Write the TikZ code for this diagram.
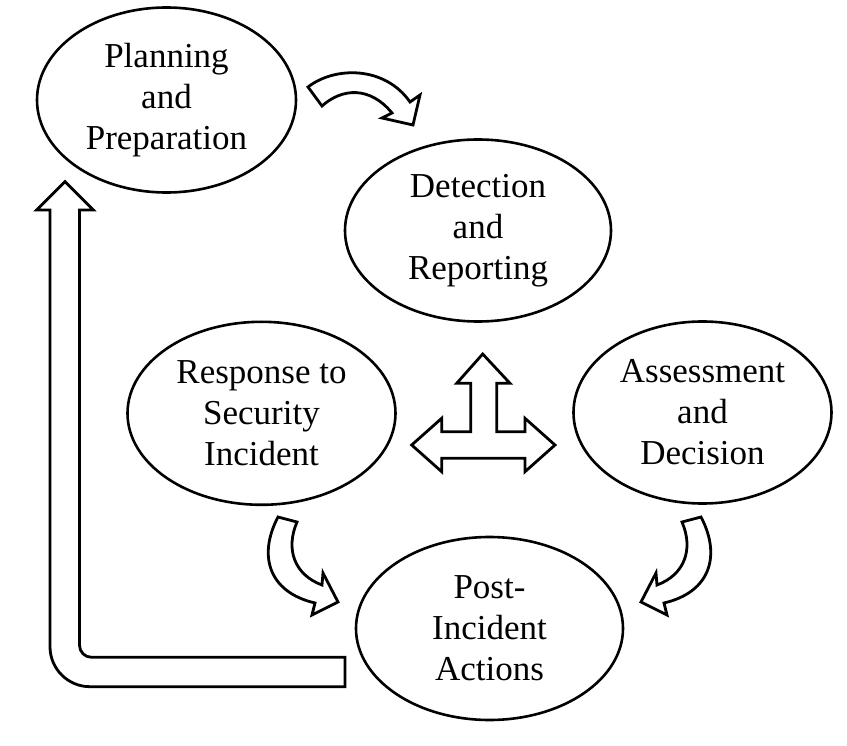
\documentclass[tikz,border=0pt]{standalone}
\usepackage{fontspec}
\setmainfont{Liberation Serif}
\usetikzlibrary{shapes.geometric}
\begin{document}
\begin{tikzpicture}[x=1pt,y=-1pt,
  phase/.style={draw, ellipse, line width=2.6pt, inner sep=0pt, align=center,
    font=\fontsize{35}{41}\selectfont},
  blockarrow/.style={draw, line width=2.8pt, fill=white, line join=miter, miter limit=10}]
\useasboundingbox (0,0) rectangle (847,746);
\node[phase, minimum width=259pt, minimum height=185pt] (plan) at (166.5,100) {Planning\\and\\Preparation};
\node[phase, minimum width=266pt, minimum height=182pt] (detect) at (478,230.5) {Detection\\and\\Reporting};
\node[phase, minimum width=268pt, minimum height=183pt] (resp) at (261.5,413.3) {Response to\\Security\\Incident};
\node[phase, minimum width=258pt, minimum height=182pt] (assess) at (702.5,412.5) {Assessment\\and\\Decision};
\node[phase, minimum width=267pt, minimum height=183pt] (post) at (489.5,628.5) {Post-\\Incident\\Actions};
% Planning -> Detection
\draw[blockarrow] (308,87) .. controls (335,66) and (385,66) .. (410,102) -- (420,95) -- (413,125) -- (382,118) -- (392,113) .. controls (370,86) and (342,88) .. (322,106) -- cycle;
% Response -> Post
\draw[blockarrow] (278,517) .. controls (258,555) and (268,592) .. (315,603) -- (312,615) -- (338,602) -- (323,573) -- (322,585) .. controls (295,575) and (285,550) .. (297,522) -- cycle;
% Assessment -> Post
\draw[blockarrow] (701,517) .. controls (721,555) and (711,592) .. (664,603) -- (667,615) -- (641,602) -- (656,573) -- (657,585) .. controls (684,575) and (694,550) .. (682,522) -- cycle;
% three-way arrow
\draw[blockarrow] (482.7,354) -- (510,383.3) -- (496.7,383.3) -- (496.7,431.7) -- (525,431.7) -- (525,418.3) -- (555,445) -- (525,471.7) -- (525,458.3) -- (441.7,458.3) -- (441.7,471.7) -- (411.7,445) -- (441.7,418.3) -- (441.7,431.7) -- (470.7,431.7) -- (470.7,383.3) -- (456.7,383.3) -- cycle;
% Post -> Planning return arrow
\draw[blockarrow] (345,657.3) -- (345,686.7) -- (90,686.7) .. controls (67.9,686.7) and (50,668.8) .. (50,646.7) -- (50,210) -- (36.7,210) -- (65,181.7) -- (93.3,210) -- (79.5,210) -- (79.5,645.3) .. controls (79.5,651.9) and (84.9,657.3) .. (91.5,657.3) -- cycle;
\end{tikzpicture}
\end{document}
